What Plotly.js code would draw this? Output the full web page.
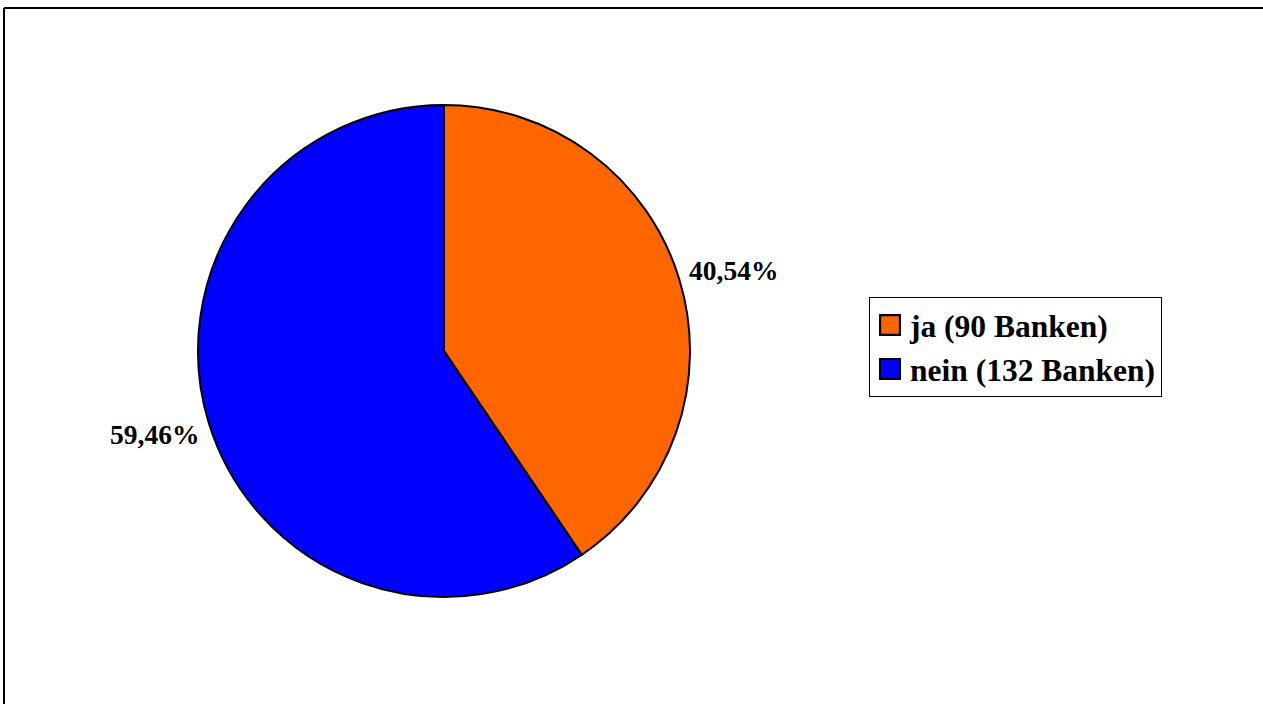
<!DOCTYPE html>
<html><head><meta charset="utf-8">
<script src="https://cdn.plot.ly/plotly-3.0.1.min.js"></script>
<style>html,body{margin:0;padding:0;background:#fff}#c{width:1263px;height:704px}</style>
</head><body><div id="c"></div>
<script>
var labels = ["ja (90 Banken)", "nein (132 Banken)"];
var values = [90, 132];
var colors = ["#FF6600", "#0000FF"];

var W = 1263, H = 704;
var dom = {x: [198 / W, 690 / W], y: [107 / H, 599 / H]};

var trace = {
  type: "pie",
  labels: labels,
  values: values,
  sort: false,
  direction: "clockwise",
  rotation: 0,
  marker: {colors: colors, line: {color: "#000", width: 2}},
  textinfo: "none",
  hoverinfo: "none",
  domain: dom,
  automargin: false
};

// percentage labels placed along each slice's mid-angle
var total = values.reduce(function (a, b) { return a + b; }, 0);
var cx = (dom.x[0] + dom.x[1]) / 2 * W;
var cy = (1 - (dom.y[0] + dom.y[1]) / 2) * H;
var Rlab = 301, angOff = 1.2 * Math.PI / 180;
var annotations = [];
var cum = 0;
values.forEach(function (v) {
  var mid = (cum + v / 2) / total * 2 * Math.PI + angOff;
  cum += v;
  var px = cx + Rlab * Math.sin(mid);
  var py = cy - Rlab * Math.cos(mid);
  annotations.push({
    xref: "paper", yref: "paper", x: px / W, y: 1 - py / H,
    xanchor: "center", yanchor: "middle", showarrow: false, yshift: -1.5,
    text: (v / total * 100).toFixed(2).replace(".", ",") + "%",
    font: {family: "Liberation Serif", size: 27.5, color: "#000", weight: "bold"}
  });
});

var layout = {
  width: W, height: H,
  margin: {l: 0, r: 0, t: 0, b: 0},
  paper_bgcolor: "#fff",
  showlegend: true,
  annotations: annotations,
  legend: {
    x: 869 / W, y: 1 - 297 / H, xanchor: "left", yanchor: "top",
    bordercolor: "#000", borderwidth: 1, bgcolor: "#fff",
    font: {family: "Liberation Serif", size: 31.5, color: "#000", weight: "bold"},
    itemwidth: 30, tracegroupgap: 0
  },
  shapes: [
    {type: "line", xref: "paper", yref: "paper", x0: 4 / W, x1: 1, y0: 1 - 8 / H, y1: 1 - 8 / H, line: {color: "#000", width: 2}},
    {type: "line", xref: "paper", yref: "paper", x0: 4 / W, x1: 4 / W, y0: 1 - 8 / H, y1: 0, line: {color: "#000", width: 2}}
  ]
};

Plotly.newPlot("c", [trace], layout, {displayModeBar: false, staticPlot: true}).then(function (gd) {
  // enlarge the legend swatches to match the reference
  gd.querySelectorAll(".legendpoints path").forEach(function (p) {
    var t = p.getAttribute("transform") || "";
    p.setAttribute("transform", t + " scale(1.65)");
    p.style.strokeWidth = "1.3px";
  });
});
</script></body></html>
